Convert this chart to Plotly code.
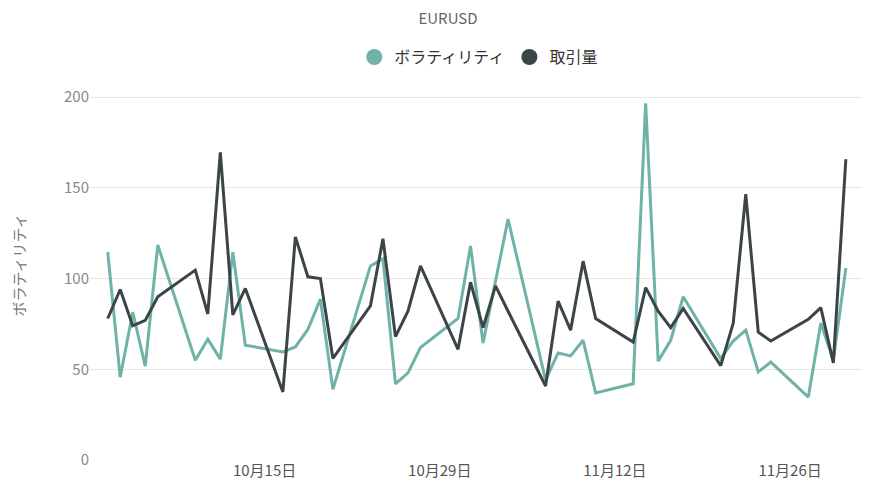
import plotly.graph_objects as go

dates = ["2018-10-03", "2018-10-04", "2018-10-05", "2018-10-06", "2018-10-07",
         "2018-10-10", "2018-10-11", "2018-10-12", "2018-10-13", "2018-10-14",
         "2018-10-17", "2018-10-18", "2018-10-19", "2018-10-20", "2018-10-21",
         "2018-10-24", "2018-10-25", "2018-10-26", "2018-10-27", "2018-10-28",
         "2018-10-31", "2018-11-01", "2018-11-02", "2018-11-03", "2018-11-04",
         "2018-11-07", "2018-11-08", "2018-11-09", "2018-11-10", "2018-11-11",
         "2018-11-14", "2018-11-15", "2018-11-16", "2018-11-17", "2018-11-18",
         "2018-11-21", "2018-11-22", "2018-11-23", "2018-11-24", "2018-11-25",
         "2018-11-28", "2018-11-29", "2018-11-30", "2018-12-01"]

volatility = [114.6, 45.7, 81.5, 51.8, 118.5,
              55, 66.6, 55.6, 114.6, 63.3,
              59.6, 62.3, 72, 88.7, 39,
              107, 111, 42, 48, 62,
              78, 118, 64.5, 98, 132.8,
              44, 59, 57.4, 66, 37,
              42, 196.7, 54.5, 66, 90,
              56, 65.6, 71.6, 48.5, 54,
              34.7, 75.5, 55, 105.8]

volume = [78, 94, 74, 77, 90,
          104.7, 80.5, 169.6, 80, 94.6,
          37.5, 123, 101, 100, 56,
          85, 122, 68, 82, 107,
          61, 98, 73, 96, 82,
          40.8, 87.6, 71.6, 109.6, 78,
          65, 95, 82, 73, 83.5,
          52, 75.5, 146.6, 70.5, 65.6,
          77.6, 84, 53.5, 165.8]

tick_dates = ["2018-10-15 13:00", "2018-10-29 13:00", "2018-11-12 13:00", "2018-11-26 13:00"]
tick_labels = ["10月15日", "10月29日", "11月12日", "11月26日"]

teal = "#6fb3a8"
dark = "#3b4446"

fig = go.Figure()
fig.add_trace(go.Scatter(x=dates, y=volatility, name="ボラティリティ", mode="lines",
                         line=dict(color=teal, width=3), showlegend=False))
fig.add_trace(go.Scatter(x=dates, y=volume, name="取引量", mode="lines",
                         line=dict(color=dark, width=3), showlegend=False))
# legend entries drawn as circles
for name, color in [("ボラティリティ", teal), ("取引量", dark)]:
    fig.add_trace(go.Scatter(x=[None], y=[None], name=name, mode="markers",
                             marker=dict(color=color, size=16, symbol="circle")))

fig.update_layout(
    width=880, height=496,
    margin=dict(l=82, r=26, t=62, b=44, autoexpand=False),
    paper_bgcolor="white", plot_bgcolor="white",
    font=dict(family="Noto Sans CJK JP", color="#777777", size=14),
    title=dict(text="EURUSD", x=0.5, xanchor="center", y=0.988, yanchor="top",
               pad=dict(t=0), font=dict(size=15, color="#666666")),
    legend=dict(orientation="h", x=0.535, xanchor="center", xref="container",
                y=0.901, yanchor="middle", yref="container",
                font=dict(size=16, color="#333333"), itemwidth=30,
                tracegroupgap=0),
    showlegend=True,
)
fig.update_xaxes(range=["2018-10-01 14:00", "2018-12-02 07:00"], tickvals=tick_dates,
                 ticktext=tick_labels, showgrid=False, showline=False, ticks="",
                 tickfont=dict(size=15, color="#555555"))
fig.update_yaxes(range=[0, 215], tickvals=[0, 50, 100, 150, 200], gridcolor="#e6e6e6",
                 gridwidth=1, zeroline=False, ticks="", ticklen=0,
                 title=dict(text="ボラティリティ", font=dict(size=15, color="#777777"), standoff=40),
                 tickfont=dict(size=15, color="#888888"))

fig.write_html("out.html")
